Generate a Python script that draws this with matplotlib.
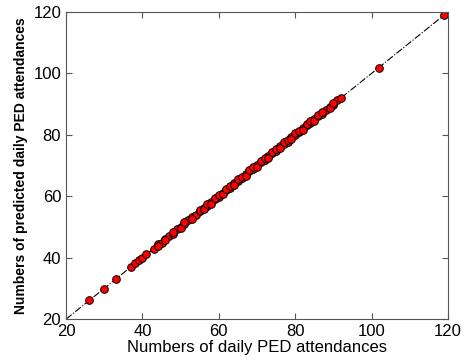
import matplotlib
matplotlib.use("Agg")
import matplotlib.pyplot as plt

plt.rcParams['font.family'] = ['Liberation Sans', 'DejaVu Sans']

# observed vs predicted daily PED attendances
observed = [26, 30, 33, 37, 38, 39, 40, 41, 43, 44, 45, 46, 47, 48, 49, 50,
            51, 52, 53, 54, 55, 56, 57, 58, 59, 60, 61, 62, 63, 64, 65, 66,
            67, 68, 69, 70, 71, 72, 73, 74, 75, 76, 77, 78, 79, 80, 81, 82,
            83, 84, 85, 86, 87, 88, 89, 90, 91, 92, 102, 119,
            44, 46, 48, 50, 51, 53, 55, 56, 57, 58, 59, 60, 61, 62, 63, 64,
            65, 66, 67, 68, 69, 70, 71, 72, 73, 74, 75, 76, 77, 78, 79, 80,
            81, 82, 83, 84, 85, 86, 87, 89, 90]
predicted = [26.1, 29.9, 33.2, 36.8, 38.1, 39.2, 39.9, 41.2, 42.8, 44.3, 44.8, 46.2, 47.1, 47.8, 49.2, 50.1,
             50.8, 52.2, 53.1, 53.8, 55.2, 56.3, 56.8, 58.1, 59.2, 59.8, 61.2, 62.1, 62.8, 64.2, 65.1, 65.8,
             67.2, 68.1, 68.8, 70.2, 71.1, 71.8, 73.2, 74.1, 74.8, 76.2, 77.1, 77.8, 79.2, 80.1, 80.8, 82.2,
             83.1, 83.8, 85.2, 86.1, 86.8, 88.2, 89.1, 89.8, 91.2, 92.1, 101.9, 119.1,
             43.7, 45.6, 48.4, 49.6, 51.5, 52.6, 55.4, 55.7, 57.4, 57.6, 59.5, 60.4, 60.6, 62.5, 63.4, 63.7,
             65.5, 66.4, 66.6, 68.5, 69.4, 69.6, 71.5, 72.4, 72.6, 74.5, 75.4, 75.6, 77.5, 78.4, 78.6, 80.5,
             81.4, 81.6, 83.5, 84.4, 84.6, 86.5, 87.4, 88.6, 90.5]

fig = plt.figure(figsize=(4.72, 3.63), dpi=100)
ax = fig.add_axes([0.140, 0.121, 0.809, 0.846])

ax.plot([20, 120], [20, 120], linestyle='-.', color='black', linewidth=0.8, zorder=1)
ax.plot(observed, predicted, 'o', markerfacecolor='red', markeredgecolor='black',
        markersize=5.5, markeredgewidth=0.7, zorder=2)

ax.set_xlim(20, 120)
ax.set_ylim(20, 120)
ax.set_xticks(range(20, 121, 20))
ax.set_yticks(range(20, 121, 20))
ax.tick_params(direction='in', top=True, right=True, labelsize=12, length=4, color='#555555')
for s in ax.spines.values():
    s.set_color('#555555')

ax.set_xlabel("Numbers of daily PED attendances", fontsize=12, labelpad=1)
ax.set_ylabel("Numbers of predicted daily PED attendances", fontsize=10, fontweight='bold', labelpad=4)

fig.savefig("out.png", dpi=100)
